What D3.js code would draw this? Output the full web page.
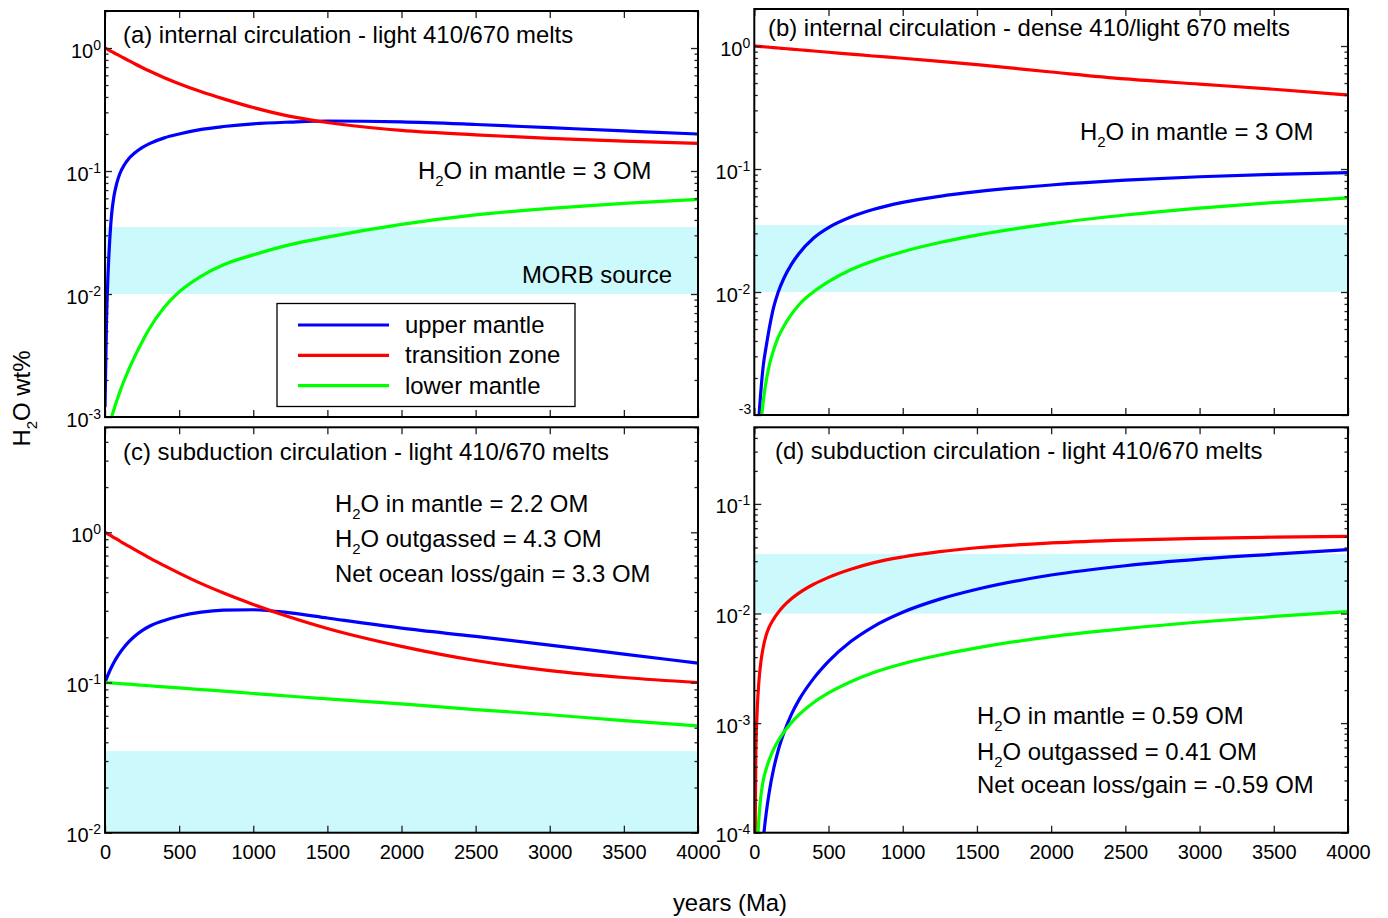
<!DOCTYPE html>
<html><head><meta charset="utf-8">
<script src="https://cdn.jsdelivr.net/npm/d3@7"></script>
<style>
body{margin:0;background:#fff}
svg{display:block}
text{font-family:"Liberation Sans",Arial,Helvetica,sans-serif;fill:#000}
</style>
</head><body><svg id="chart" width="1388" height="918"></svg>
<script>
// ---------------- data ----------------
const years = [0,10,20,30,45,60,80,100,130,160,200,250,300,400,500,650,800,1000,1250,1500,2000,2500,3000,3500,4000];

// (a) internal circulation - light 410/670 melts
const aUpper      = [0.0012,0.006,0.014,0.025,0.045,0.062,0.08,0.095,0.112,0.126,0.14,0.155,0.167,0.186,0.2,0.218,0.23,0.242,0.25,0.255,0.251,0.239,0.225,0.212,0.2];
const aTransition = [1.0,0.985,0.971,0.956,0.934,0.915,0.889,0.863,0.826,0.79,0.745,0.695,0.65,0.574,0.513,0.441,0.386,0.328,0.278,0.248,0.214,0.197,0.184,0.175,0.168];
const aLower      = [0.0002,0.0004,0.0006,0.0008,0.001,0.00115,0.00136,0.0016,0.00199,0.00243,0.0031,0.00408,0.00524,0.0078,0.0104,0.014,0.0173,0.0208,0.0252,0.029,0.0368,0.044,0.0496,0.0545,0.0589];

// (b) internal circulation - dense 410/light 670 melts
const bUpper      = [0.00005,0.00019,0.0005,0.00089,0.0016,0.0025,0.0036,0.005,0.0075,0.0099,0.013,0.0168,0.0205,0.0275,0.0334,0.0407,0.0468,0.0535,0.06,0.0654,0.0741,0.0811,0.0865,0.0904,0.0933];
const bTransition = [1.0,0.998,0.995,0.993,0.99,0.986,0.982,0.977,0.97,0.964,0.955,0.944,0.933,0.911,0.89,0.86,0.83,0.795,0.75,0.705,0.615,0.54,0.49,0.445,0.40];
const bLower      = [0.00001,0.0000762,0.000231,0.000442,0.000854,0.001279,0.001886,0.002512,0.003371,0.004253,0.005294,0.006571,0.007843,0.01005,0.01214,0.01518,0.01788,0.02128,0.02526,0.02902,0.03595,0.04228,0.04813,0.05336,0.05835];

// (c) subduction circulation - light 410/670 melts
const cUpper      = [0.1,0.1062,0.1123,0.1184,0.1274,0.136,0.147,0.1575,0.1723,0.1863,0.2033,0.2216,0.2369,0.259,0.276,0.294,0.303,0.305,0.291,0.2686,0.23,0.2026,0.1775,0.1546,0.1346];
const cTransition = [1.0,0.987,0.974,0.961,0.942,0.923,0.899,0.875,0.84,0.808,0.767,0.722,0.676,0.6,0.535,0.455,0.394,0.331,0.272,0.229,0.174,0.14,0.12,0.108,0.1];
const cLower      = [0.1,0.0998,0.0997,0.0995,0.0993,0.099,0.0987,0.0983,0.0979,0.0974,0.0967,0.0959,0.0951,0.0936,0.092,0.0897,0.0875,0.0845,0.081,0.0777,0.072,0.066,0.061,0.0557,0.0514];

// (d) subduction circulation - light 410/670 melts
const dUpper      = [0.000001,0.0000079,0.0000157,0.0000266,0.000051,0.000086,0.00015,0.000232,0.000381,0.000557,0.00082,0.0012,0.00162,0.00256,0.00366,0.00555,0.00757,0.01026,0.01352,0.01663,0.02244,0.02729,0.03133,0.03475,0.0383];
const dTransition = [0.00001,0.00048,0.00136,0.00231,0.00368,0.0049,0.00635,0.0075,0.0089,0.01019,0.01178,0.01362,0.01533,0.01848,0.02137,0.02535,0.029,0.0328,0.03666,0.03981,0.04401,0.04675,0.04848,0.04969,0.05056];
const dLower      = [0.00001,0.00003,0.00007,0.000129,0.00022,0.000299,0.000381,0.000461,0.000576,0.000687,0.00083,0.00101,0.00119,0.001543,0.001886,0.002388,0.002884,0.003483,0.004182,0.004858,0.006149,0.007285,0.008369,0.009408,0.01042];

const morbSource = [0.01, 0.035];
const seriesNames = ["upper mantle","transition zone","lower mantle"];
const seriesColors = ["#0000ff","#ff0000","#00ff00"];
const xTickValues = [0,500,1000,1500,2000,2500,3000,3500,4000];
const titles = [
  "(a) internal circulation - light 410/670 melts",
  "(b) internal circulation - dense 410/light 670 melts",
  "(c) subduction circulation - light 410/670 melts",
  "(d) subduction circulation - light 410/670 melts"
];
const notesA = ["in mantle = 3 OM"];
const notesB = ["in mantle = 3 OM"];
const notesC = ["in mantle = 2.2 OM","outgassed = 4.3 OM"];
const netC = "Net ocean loss/gain = 3.3 OM";
const notesD = ["in mantle = 0.59 OM","outgassed = 0.41 OM"];
const netD = "Net ocean loss/gain = -0.59 OM";

// ---------------- layout ----------------
const FS = 23.9;
const svg = d3.select("#chart");
const panels = [
  {x0:105, x1:698, y0:11,    y1:417,   dom:[1e-3,2],   exps:[-3,-2,-1,0], series:[aUpper,aTransition,aLower], title:titles[0], tx:123, ty:42.5, xLabels:false},
  {x0:754.3, x1:1348, y0:9,  y1:415,   dom:[1e-3,2],   exps:[-3,-2,-1,0], series:[bUpper,bTransition,bLower], title:titles[1], tx:768, ty:36,  xLabels:false, hideBottomBase:true},
  {x0:105, x1:698, y0:427.3, y1:832.7, dom:[1e-2,5],   exps:[-2,-1,0],    series:[cUpper,cTransition,cLower], title:titles[2], tx:123, ty:460, xLabels:true},
  {x0:754.3, x1:1348, y0:427.3, y1:832.7, dom:[1e-4,0.5], exps:[-4,-3,-2,-1], series:[dUpper,dTransition,dLower], title:titles[3], tx:775, ty:459, xLabels:true}
];

function h2oText(sel, x, y, rest, size){
  const t = sel.append("text").attr("x",x).attr("y",y).attr("font-size",size);
  t.append("tspan").text("H");
  t.append("tspan").attr("dy",7).attr("font-size",15).text("2");
  t.append("tspan").attr("dy",-7).text("O " + rest);
  return t;
}

panels.forEach((p,i)=>{
  const g = svg.append("g");
  const x = d3.scaleLinear().domain([0,4000]).range([p.x0,p.x1]);
  const y = d3.scaleLog().domain(p.dom).range([p.y1,p.y0]);
  const cid = "clip"+i;
  svg.append("clipPath").attr("id",cid).append("rect")
    .attr("x",p.x0).attr("y",p.y0).attr("width",p.x1-p.x0).attr("height",p.y1-p.y0);
  const inner = g.append("g").attr("clip-path",`url(#${cid})`);
  // MORB source band
  inner.append("rect").attr("x",p.x0).attr("width",p.x1-p.x0)
    .attr("y",y(morbSource[1])).attr("height",y(morbSource[0])-y(morbSource[1]))
    .attr("fill","#ccf9fb");
  // curves
  const line = d3.line().x((d,k)=>x(years[k])).y(d=>y(d)).curve(d3.curveMonotoneX);
  p.series.forEach((s,k)=>{
    inner.append("path").attr("d",line(s)).attr("fill","none")
      .attr("stroke",seriesColors[k]).attr("stroke-width",3.2).attr("stroke-linejoin","round");
  });

  // ticks
  const tickStyle = sel => { sel.select(".domain").remove(); sel.selectAll("line").attr("stroke","#222").attr("stroke-width",1.3); sel.attr("font-family",null).attr("font-size",20); };
  const gb = g.append("g").attr("transform",`translate(0,${p.y1})`)
    .call(d3.axisBottom(x).tickValues(xTickValues).tickSizeInner(-7).tickSizeOuter(0).tickPadding(12)
      .tickFormat(p.xLabels ? d3.format("d") : ""));
  tickStyle(gb);
  gb.selectAll("text").attr("fill","#000");
  const gt = g.append("g").attr("transform",`translate(0,${p.y0})`)
    .call(d3.axisTop(x).tickValues(xTickValues).tickSizeInner(-7).tickSizeOuter(0).tickFormat(""));
  tickStyle(gt);

  const lo = Math.floor(Math.log10(p.dom[0])), hi = Math.ceil(Math.log10(p.dom[1]));
  const majors = p.exps.map(e=>Math.pow(10,e));
  const minors = [];
  for(let e=lo;e<hi;e++) for(let m=2;m<=9;m++){ const v=m*Math.pow(10,e); if(v>p.dom[0]*1.0001 && v<=p.dom[1]*1.0001) minors.push(v); }
  [[d3.axisLeft,p.x0],[d3.axisRight,p.x1]].forEach(([ax,pos])=>{
    const gm = g.append("g").attr("transform",`translate(${pos},0)`)
      .call(ax(y).tickValues(majors).tickSizeInner(-7).tickSizeOuter(0).tickFormat(""));
    tickStyle(gm);
    const gn = g.append("g").attr("transform",`translate(${pos},0)`)
      .call(ax(y).tickValues(minors).tickSizeInner(-3.5).tickSizeOuter(0).tickFormat(""));
    tickStyle(gn);
  });

  // y tick labels (10^n)
  p.exps.forEach(e=>{
    const yy = y(Math.pow(10,e));
    if(p.hideBottomBase && e===p.exps[0]){
      g.append("text").attr("text-anchor","end").attr("x",p.x0-3).attr("y",yy-1.5).attr("font-size",14).text(String(e));
      return;
    }
    const t = g.append("text").attr("text-anchor","end").attr("x",p.x0-4).attr("y",yy+9.5).attr("font-size",20);
    t.append("tspan").text("10");
    t.append("tspan").attr("dy",-8).attr("font-size",14).text(String(e));
  });

  // frame
  g.append("rect").attr("x",p.x0).attr("y",p.y0).attr("width",p.x1-p.x0).attr("height",p.y1-p.y0)
    .attr("fill","none").attr("stroke","#000").attr("stroke-width",2);

  // title
  g.append("text").attr("x",p.tx).attr("y",p.ty).attr("font-size",FS).text(p.title);
});

// annotations
h2oText(svg, 418, 178.5, notesA[0], FS);
svg.append("text").attr("x",672).attr("y",283).attr("text-anchor","end").attr("font-size",FS).text("MORB source");
h2oText(svg, 1080, 139.5, notesB[0], FS);
h2oText(svg, 335, 511.5, notesC[0], FS);
h2oText(svg, 335, 546.5, notesC[1], FS);
svg.append("text").attr("x",335).attr("y",581.5).attr("font-size",FS).text(netC);
h2oText(svg, 977, 723.5, notesD[0], FS);
h2oText(svg, 977, 760, notesD[1], FS);
svg.append("text").attr("x",977).attr("y",793).attr("font-size",FS).text(netD);

// legend (panel a)
const lg = svg.append("g");
lg.append("rect").attr("x",277).attr("y",303.5).attr("width",298).attr("height",103)
  .attr("fill","#fff").attr("stroke","#000").attr("stroke-width",1.3);
seriesNames.forEach((n,k)=>{
  const yy = 325 + k*30.3;
  lg.append("line").attr("x1",298).attr("x2",389).attr("y1",yy).attr("y2",yy)
    .attr("stroke",seriesColors[k]).attr("stroke-width",3.2);
  lg.append("text").attr("x",405).attr("y",yy+8).attr("font-size",FS).text(n);
});

// axis titles
svg.append("text").attr("x",730).attr("y",910.5).attr("text-anchor","middle").attr("font-size",FS).text("years (Ma)");
const yl = svg.append("text").attr("transform","translate(30,398.5) rotate(-90)").attr("text-anchor","middle").attr("font-size",FS);
yl.append("tspan").text("H");
yl.append("tspan").attr("dy",7).attr("font-size",15).text("2");
yl.append("tspan").attr("dy",-7).text("O wt%");
</script>
</body></html>
